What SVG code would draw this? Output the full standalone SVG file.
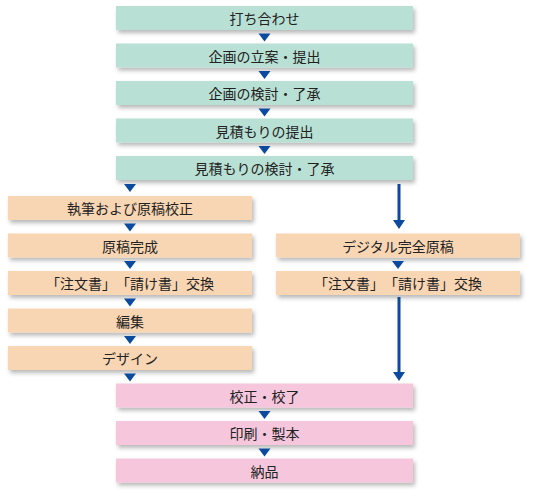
<svg xmlns="http://www.w3.org/2000/svg" width="540" height="495" viewBox="0 0 540 495">
<defs>
<filter id="sh" x="-5%" y="-30%" width="115%" height="180%">
<feDropShadow dx="2" dy="3" stdDeviation="2" flood-color="#000" flood-opacity="0.28"/>
</filter>
</defs>
<style>
.g{fill:#b9e0d4}
.o{fill:#f9d6b3}
.p{fill:#f5c6dc}
rect{filter:url(#sh)}
text{font-family:"Noto Sans CJK JP","Noto Sans",sans-serif;font-size:14px;fill:#222;text-anchor:middle;dominant-baseline:central;text-spacing-trim:space-all;font-feature-settings:"halt" 0,"chws" 0}
.tri{fill:#0b4a9e}
.ln{stroke:#0b4a9e;stroke-width:3;fill:none}
</style>
<g id="n1"><rect class="g" x="116" y="6" width="297" height="24"/><text x="264.5" y="18">打ち合わせ</text></g>
<g id="n2"><rect class="g" x="116" y="43.5" width="297" height="24"/><text x="264.5" y="55.5">企画の立案・提出</text></g>
<g id="n3"><rect class="g" x="116" y="81" width="297" height="24"/><text x="264.5" y="93">企画の検討・了承</text></g>
<g id="n4"><rect class="g" x="116" y="118.5" width="297" height="24"/><text x="264.5" y="130.5">見積もりの提出</text></g>
<g id="n5"><rect class="g" x="116" y="156" width="297" height="24"/><text x="264.5" y="168">見積もりの検討・了承</text></g>
<g id="l1"><rect class="o" x="8" y="196" width="244" height="24"/><text x="130" y="208">執筆および原稿校正</text></g>
<g id="l2"><rect class="o" x="8" y="233.5" width="244" height="24"/><text x="130" y="245.5">原稿完成</text></g>
<g id="l3"><rect class="o" x="8" y="271" width="244" height="24"/><text x="130" y="283">「注文書」「請け書」交換</text></g>
<g id="l4"><rect class="o" x="8" y="308.5" width="244" height="24"/><text x="130" y="320.5">編集</text></g>
<g id="l5"><rect class="o" x="8" y="346" width="244" height="24"/><text x="130" y="358">デザイン</text></g>
<g id="r1"><rect class="o" x="276" y="233.5" width="244" height="24"/><text x="398" y="245.5">デジタル完全原稿</text></g>
<g id="r2"><rect class="o" x="276" y="271" width="244" height="24"/><text x="398" y="283">「注文書」「請け書」交換</text></g>
<g id="b1"><rect class="p" x="116" y="383.5" width="297" height="24"/><text x="264.5" y="395.5">校正・校了</text></g>
<g id="b2"><rect class="p" x="116" y="421" width="297" height="24"/><text x="264.5" y="433">印刷・製本</text></g>
<g id="b3"><rect class="p" x="116" y="458.5" width="297" height="24"/><text x="264.5" y="470.5">納品</text></g>
<g id="connectors">
<path class="tri" d="M258.5,33.5 h12 l-6,8 z"/>
<path class="tri" d="M258.5,71 h12 l-6,8 z"/>
<path class="tri" d="M258.5,108.5 h12 l-6,8 z"/>
<path class="tri" d="M258.5,146 h12 l-6,8 z"/>
<path class="tri" d="M124,184 h12 l-6,8 z"/>
<path class="tri" d="M124,223.5 h12 l-6,8 z"/>
<path class="tri" d="M124,261 h12 l-6,8 z"/>
<path class="tri" d="M124,298.5 h12 l-6,8 z"/>
<path class="tri" d="M124,336 h12 l-6,8 z"/>
<path class="tri" d="M124,373.5 h12 l-6,8 z"/>
<path class="tri" d="M392,261 h12 l-6,8 z"/>
<path class="tri" d="M258.5,411 h12 l-6,8 z"/>
<path class="tri" d="M258.5,448.5 h12 l-6,8 z"/>
<path class="ln" d="M399,184 V221"/>
<path class="tri" d="M393,220 h12 l-6,9 z"/>
<path class="ln" d="M399,297 V373"/>
<path class="tri" d="M393,372 h12 l-6,9 z"/>
</g>
</svg>
